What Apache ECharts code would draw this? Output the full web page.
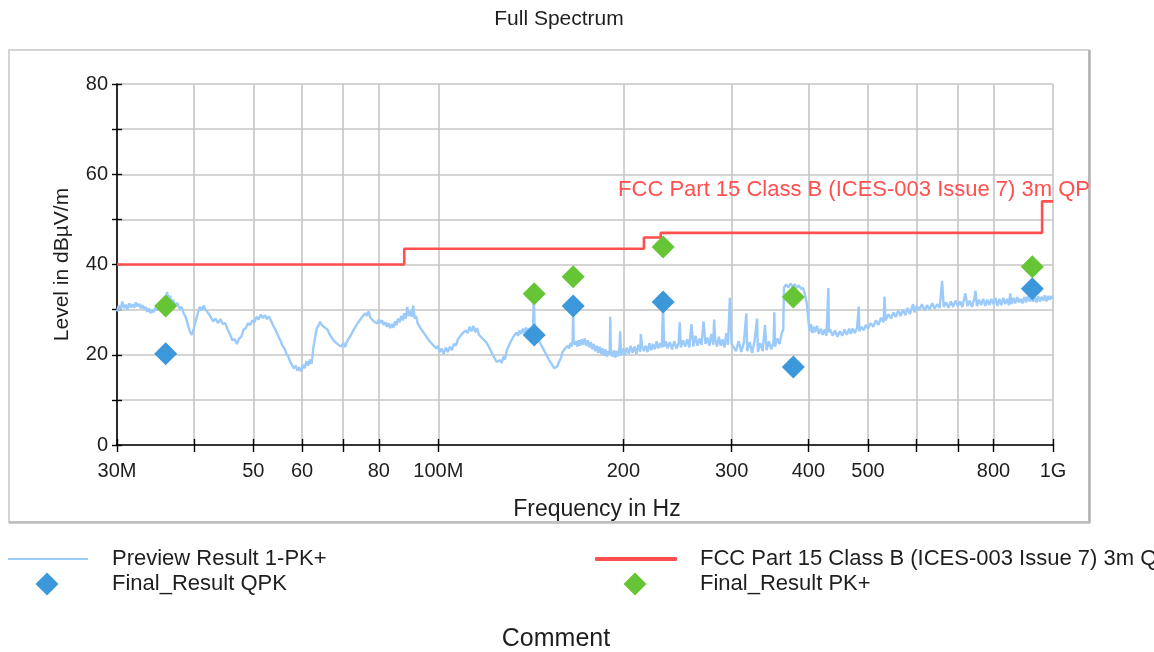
<!DOCTYPE html>
<html>
<head>
<meta charset="utf-8">
<script src="https://cdn.jsdelivr.net/npm/echarts@6/dist/echarts.min.js"></script>
<style>
  html, body { margin: 0; padding: 0; background: #ffffff; }
  #chart { width: 1154px; height: 652px; }
</style>
</head>
<body>
<div id="chart"></div>
<script>
// Emission scan, 30 MHz - 1 GHz. Frequencies in MHz, levels in dBµV/m.
const previewTrace = [
  [30.0,29.6],[30.2,30.9],[30.4,29.9],[30.6,31.8],[30.8,30.3],[31.0,31.1],[31.2,30.0],[31.4,31.4],
  [31.6,30.5],[31.8,31.2],[32.0,30.4],[32.2,31.6],[32.4,30.7],[32.6,31.3],[32.8,30.3],[33.0,31.0],
  [33.2,30.1],[33.4,30.6],[33.6,29.5],[33.8,30.3],[34.0,29.2],[34.2,30.0],[34.4,29.4],[34.6,30.4],
  [34.8,29.8],[35.0,31.2],[35.2,30.6],[35.4,31.9],[35.6,31.0],[35.8,32.8],[36.0,31.5],[36.2,33.9],
  [36.4,32.0],[36.6,33.1],[36.8,31.6],[37.0,32.2],[37.3,31.0],[37.6,31.5],[37.9,30.2],
  [38.2,30.6],[38.5,29.2],[38.8,28.4],[39.1,26.8],[39.4,25.2],[39.7,24.4],[40.0,25.8],[40.3,27.6],
  [40.6,29.2],[40.9,30.6],[41.2,29.8],[41.5,30.9],[41.8,30.0],[42.1,30.4],[42.4,28.9],[42.7,28.6],
  [43.0,27.4],[43.4,28.0],[43.8,27.0],[44.2,27.9],[44.6,26.8],[45.0,27.0],[45.4,25.6],[45.8,24.6],
  [46.2,23.2],[46.6,23.5],[47.0,22.4],[47.4,23.6],[47.8,24.0],[48.2,25.6],[48.6,25.9],
  [49.0,27.0],[49.4,26.6],[49.8,27.6],[50.2,27.2],[50.6,28.4],[51.0,27.8],[51.4,28.9],[51.8,28.1],
  [52.2,28.8],[52.6,27.9],[53.0,28.5],[53.4,27.6],[53.8,26.6],[54.2,25.8],[54.6,24.8],[55.0,23.9],
  [55.4,23.0],[55.8,21.9],[56.2,21.4],[56.6,20.2],[57.0,19.6],[57.4,18.4],[57.8,18.0],[58.2,17.0],
  [58.6,17.6],[59.0,16.5],[59.4,17.2],[59.8,16.3],[60.2,17.8],[60.6,17.0],[61.0,18.6],[61.4,17.6],
  [61.8,18.9],[62.2,18.0],
  [62.6,21.5],[63.0,23.8],[63.4,25.8],[63.8,26.4],[64.2,27.3],[64.6,26.6],[65.0,27.0],[65.5,25.9],
  [66.0,25.6],[66.5,24.6],[67.0,24.2],[67.5,23.2],[68.0,23.6],[68.5,22.4],[69.0,22.8],[69.5,21.8],
  [70.0,22.6],[70.5,21.7],[71.0,22.9],[71.5,23.2],[72.0,24.3],[72.5,24.6],[73.0,25.8],[73.5,26.0],
  [74.0,27.1],[74.5,27.0],[75.0,28.2],[75.5,28.0],[76.0,29.2],[76.5,28.6],[77.0,29.6],[77.5,28.2],
  [78.0,28.6],[78.5,27.4],[79.0,27.8],[79.5,26.9],[80.0,27.9],
  [80.5,27.0],[81.0,27.6],[81.5,26.6],[82.0,27.2],[82.5,26.2],[83.0,27.0],[83.5,25.9],[84.0,26.8],
  [84.5,26.0],[85.0,27.4],[85.5,26.6],[86.0,28.0],[86.5,27.2],[87.0,28.6],[87.5,27.6],[88.0,29.2],
  [88.5,28.0],[89.0,30.6],[89.5,28.6],[90.0,29.6],[90.5,28.4],[91.0,30.9],[91.5,28.0],[92.0,28.6],
  [92.5,27.0],[93.0,27.4],[93.5,25.9],[94.0,26.3],[94.5,25.0],[95.0,25.3],[95.6,24.0],[96.2,24.4],
  [96.8,23.0],[97.4,23.3],[98.0,22.2],[98.6,22.5],[99.2,21.4],[99.8,22.0],
  [100.5,20.6],[101.2,21.4],[102.0,20.2],[102.8,21.6],[103.6,20.6],[104.4,21.8],[105.2,21.0],[106.0,22.4],
  [106.8,22.0],[107.6,23.4],[108.4,23.0],[109.2,24.6],[110.0,24.2],[110.8,25.4],[111.6,24.8],[112.4,26.2],
  [113.2,25.2],[114.0,26.4],[114.8,25.0],[115.6,25.9],[116.4,24.4],[117.2,24.8],[118.0,23.6],[118.8,24.0],
  [119.6,22.8],[120.4,22.6],[121.2,21.4],[122.0,21.0],[122.8,19.8],[123.6,19.6],[124.4,18.4],[125.2,18.0],
  [126.0,18.8],[126.8,18.2],[127.6,19.6],[128.4,19.0],[129.2,21.0],[130.0,20.8],[130.8,22.6],[131.6,22.4],
  [132.4,24.0],[133.2,23.6],[134.0,24.9],[134.8,24.2],[135.6,25.4],[136.4,24.6],[137.2,25.8],[138.0,24.8],
  [138.8,26.0],[139.6,25.0],[140.4,25.9],[141.2,24.8],[142.0,25.6],[142.6,26.4],[143.0,33.2],[143.4,26.0],
  [144.0,24.6],[144.8,23.8],[145.6,23.4],[146.4,22.6],[147.2,22.2],[148.0,21.4],[148.8,21.0],[149.6,20.2],
  [150.4,19.8],[151.2,19.0],[152.0,18.6],[152.8,18.0],[153.6,17.6],[154.4,17.0],[155.2,16.8],[156.0,17.4],
  [156.8,17.6],[157.6,18.8],[158.4,19.4],[159.2,20.6],[160.0,20.4],[160.8,21.4],[161.6,21.0],[162.4,22.0],
  [163.2,21.4],[164.0,22.6],[164.8,21.8],[165.4,23.4],[165.7,30.8],[166.0,23.0],[166.8,22.2],[167.6,23.0],
  [168.4,21.8],[169.2,23.2],[170.0,22.0],
  [171.0,23.4],[172.0,22.2],[173.0,23.6],[174.0,22.0],[175.0,23.2],[176.0,21.6],[177.0,22.8],[178.0,21.2],
  [179.0,22.4],[180.0,20.8],[181.0,22.0],[182.0,20.4],[183.0,21.8],[184.0,20.2],[185.0,21.4],[186.0,19.8],
  [187.0,21.2],[188.0,19.6],[189.0,20.8],[190.0,20.0],[190.4,28.4],[190.8,20.6],[192.0,19.6],[193.0,21.0],
  [194.0,19.4],[195.0,20.8],[196.0,19.6],[197.0,21.2],[197.6,25.2],[198.2,19.8],[199.5,21.4],[201.0,19.9],
  [202.5,21.6],[204.0,20.2],[205.5,22.0],[207.0,20.4],[208.5,21.8],[210.0,20.2],[211.5,22.2],[213.0,20.6],
  [213.5,24.6],[214.5,22.0],[216.0,20.8],[217.5,22.0],[219.0,20.6],[220.5,22.6],[222.0,21.0],[223.5,22.4],
  [225.0,21.2],[226.5,23.0],[228.0,21.4],[229.5,22.6],[231.0,21.6],[232.0,31.4],[233.0,21.8],[234.5,23.0],
  [236.0,21.4],
  [238.0,22.8],[240.0,21.2],[242.0,23.0],[244.0,21.4],[246.0,22.6],[247.0,27.2],[248.0,21.6],[250.0,23.2],
  [252.0,21.8],[254.0,23.4],[256.0,21.6],[258.0,26.8],[260.0,21.8],[262.0,24.2],[264.0,22.0],[266.0,23.6],
  [268.0,22.2],[270.0,27.4],[272.0,22.4],[274.0,23.8],[276.0,22.0],[278.0,24.6],[280.0,22.2],[281.0,27.8],
  [282.0,23.6],[284.0,21.8],[286.0,24.0],[288.0,22.0],[290.0,23.4],[292.0,21.6],[294.0,24.8],[296.0,22.2],
  [298.0,32.6],[300.0,22.4],
  [302.0,22.8],[305.0,20.8],[308.0,23.0],[311.0,20.6],[314.0,22.6],[317.0,29.2],[318.0,20.8],[321.0,22.8],
  [324.0,20.4],[327.0,23.2],[330.0,28.0],[331.0,20.6],[334.0,22.6],[337.0,20.8],[340.0,26.6],[342.0,21.0],
  [345.0,23.0],[348.0,21.2],[351.0,22.8],[352.0,29.4],[353.0,21.8],[356.0,23.6],[359.0,22.4],[362.0,24.8],
  [364.0,25.6],
  [365.0,34.8],[368.0,35.6],[371.0,34.9],[374.0,35.8],[377.0,35.0],[380.0,35.6],[383.0,34.8],[386.0,35.4],
  [389.0,34.6],[392.0,34.8],[395.0,33.2],[398.0,31.0],[400.0,27.4],[402.0,25.2],[404.0,26.8],[406.0,24.8],
  [408.0,26.2],
  [410.0,25.0],[413.0,26.4],[416.0,24.6],[419.0,25.8],[422.0,24.4],[425.0,25.6],[428.0,24.2],[431.0,34.8],
  [432.0,25.0],[434.0,25.6],[438.0,24.2],[442.0,25.4],[446.0,24.0],[450.0,25.2],[454.0,24.2],[458.0,25.6],
  [462.0,24.4],[466.0,25.8],[469.0,24.6],[472.0,25.8],[476.0,24.8],[480.0,26.0],[483.0,30.7],[484.0,25.2],
  [488.0,26.2],[492.0,25.4],[496.0,26.6],[500.0,25.8],[505.0,27.0],[510.0,26.2],[515.0,27.6],[520.0,26.6],
  [525.0,28.2],[530.0,27.2],[532.0,32.9],[534.0,27.6],[540.0,29.0],[545.0,28.0],[550.0,29.4],[555.0,28.4],
  [560.0,29.8],[565.0,28.6],[570.0,30.0],[575.0,28.8],[580.0,30.4],[585.0,29.0],[590.0,30.6],[592.0,31.2],
  [595.0,29.4],[600.0,30.8],
  [606.0,30.0],[612.0,31.2],[618.0,29.8],[624.0,31.0],[630.0,30.0],[636.0,31.4],[642.0,30.2],[648.0,31.2],
  [654.0,30.4],[660.0,36.4],[664.0,30.6],[670.0,31.6],[676.0,30.4],[682.0,31.8],[688.0,30.6],[694.0,32.0],
  [700.0,30.8],[706.0,31.8],[712.0,30.6],[720.0,33.6],[726.0,30.8],[732.0,32.0],[738.0,30.6],[744.0,32.2],
  [748.0,34.2],[752.0,30.8],[758.0,32.2],[764.0,31.0],[770.0,32.4],[776.0,30.8],[782.0,32.2],[788.0,31.0],
  [794.0,32.4],[800.0,31.2],[806.0,32.6],[812.0,30.8],[818.0,32.4],[824.0,31.0],[830.0,32.6],[836.0,31.2],
  [842.0,32.4],[848.0,31.0],[852.0,33.6],[856.0,31.2],[862.0,32.6],[868.0,31.4],[874.0,32.8],[880.0,31.6],
  [886.0,32.4],[892.0,31.4],[898.0,32.8],[904.0,31.6],[910.0,33.0],[916.0,31.8],[922.0,32.6],[928.0,31.8],
  [934.0,32.8],[940.0,31.6],[946.0,33.0],[952.0,31.8],[958.0,32.8],[964.0,32.0],[970.0,33.2],[976.0,31.8],
  [982.0,33.0],[988.0,32.2],[994.0,33.0],[1000.0,32.4]
];

// FCC Part 15 Class B / ICES-003 Issue 7, 3 m quasi-peak limit (step line)
const limitLine = [
  [30, 40], [88, 40], [88, 43.5], [216, 43.5], [216, 46], [230, 46],
  [230, 47], [960, 47], [960, 54], [1000, 54]
];

// Final measurements at the selected frequencies
const finalFreqs = [36.0, 143.2, 165.7, 232.1, 378.0, 925.5];
const qpkLevels  = [20.2, 24.4, 30.8, 31.7, 17.3, 34.6];
const pkLevels   = [30.8, 33.5, 37.3, 43.9, 32.8, 39.5];

// Frequency axis ticks
const xGridValues  = [30, 40, 50, 60, 70, 80, 100, 200, 300, 400, 500, 600, 700, 800, 1000];
const xLabelValues = [30, 50, 60, 80, 100, 200, 300, 400, 500, 800, 1000];
const xLabelTexts  = ['30M', '50', '60', '80', '100M', '200', '300', '400', '500', '800', '1G'];
const yLabelValues = [0, 20, 40, 60, 80];

const seriesNames = {
  preview: 'Preview Result 1-PK+',
  limit: 'FCC Part 15 Class B (ICES-003 Issue 7) 3m QP',
  qpk: 'Final_Result QPK',
  pk: 'Final_Result PK+'
};

const FONT = '"Liberation Sans", Arial, sans-serif';
const TEXT = '#1e1e1e';
const C_PREVIEW = '#9ccbfa';
const C_LIMIT = '#ff4f4f';
const C_QPK = '#3c97db';
const C_PK = '#66c535';

const zip = (xs, ys) => xs.map((x, i) => [x, ys[i]]);

const chart = echarts.init(document.getElementById('chart'), null, { renderer: 'canvas' });

function legendBlock(name, icon, left, top, w, h, spacer) {
  return {
    data: [{ name: name, icon: icon }], left: left, top: top, orient: 'horizontal',
    itemWidth: w, itemHeight: h, padding: 0,
    formatter: '{g|\u00a0}{n|{name}}',
    textStyle: {
      fontFamily: FONT, fontSize: 22, color: TEXT,
      rich: {
        g: { width: spacer, fontSize: 22, fontFamily: FONT },
        n: { fontSize: 22, fontFamily: FONT, color: TEXT }
      }
    }
  };
}

const xAxisBase = {
  type: 'log', logBase: 10, min: 30, max: 1000, gridIndex: 0, position: 'bottom'
};
const yAxisBase = {
  type: 'value', min: 0, max: 80, interval: 10, gridIndex: 0, position: 'left'
};

chart.setOption({
  animation: false,
  backgroundColor: '#ffffff',
  title: [
    {
      text: 'Full Spectrum', left: 554, top: 4, textAlign: 'center',
      textStyle: { fontFamily: FONT, fontSize: 21, fontWeight: 'normal', color: TEXT }
    },
    {
      text: 'Comment', left: 551, top: 622, textAlign: 'center',
      textStyle: { fontFamily: FONT, fontSize: 25, fontWeight: 'normal', color: TEXT }
    }
  ],
  grid: { left: 117, right: 101, top: 84, bottom: 207, containLabel: false },
  xAxis: [
    Object.assign({}, xAxisBase, {
      name: 'Frequency in Hz', nameLocation: 'middle', nameGap: 53,
      nameTextStyle: { fontFamily: FONT, fontSize: 23, color: TEXT, padding: [0, 0, 0, 24] },
      axisLine: { show: true, lineStyle: { color: '#000', width: 1.6 } },
      axisTick: { show: true, inside: false, length: 7, customValues: xGridValues,
                  lineStyle: { color: '#000', width: 1.4 } },
      axisLabel: {
        show: true, customValues: xLabelValues, margin: 16,
        fontFamily: FONT, fontSize: 20, color: TEXT,
        formatter: v => {
          const i = xLabelValues.findIndex(t => Math.abs(t - v) / t < 1e-6);
          return i >= 0 ? xLabelTexts[i] : '';
        }
      },
      splitLine: { show: true, lineStyle: { color: '#c6c6c6', width: 1.6 } },
      minorTick: { show: false }, minorSplitLine: { show: false }
    }),
    Object.assign({}, xAxisBase, {
      axisLine: { show: false },
      axisTick: { show: true, inside: true, length: 6, customValues: xGridValues,
                  lineStyle: { color: '#000', width: 1.4 } },
      axisLabel: { show: false },
      splitLine: { show: false }
    })
  ],
  yAxis: [
    Object.assign({}, yAxisBase, {
      name: 'Level in dBµV/m', nameLocation: 'middle', nameGap: 44,
      nameTextStyle: { fontFamily: FONT, fontSize: 21, color: TEXT },
      axisLine: { show: true, lineStyle: { color: '#000', width: 1.6 } },
      axisTick: { show: true, inside: false, length: 5, lineStyle: { color: '#000', width: 1.4 } },
      axisLabel: {
        show: true, margin: 9, fontFamily: FONT, fontSize: 20, color: TEXT,
        formatter: v => (yLabelValues.indexOf(v) >= 0 ? String(v) : '')
      },
      splitLine: { show: true, lineStyle: { color: '#c6c6c6', width: 1.6 } }
    }),
    Object.assign({}, yAxisBase, {
      axisLine: { show: false },
      axisTick: { show: true, inside: true, length: 5, lineStyle: { color: '#000', width: 1.4 } },
      axisLabel: { show: false },
      splitLine: { show: false }
    })
  ],
  legend: [
    legendBlock(seriesNames.preview, 'rect', 8, 548, 80, 2, 19),
    legendBlock(seriesNames.qpk, 'diamond', 35.5, 572.5, 23, 23, 48.5),
    legendBlock(seriesNames.limit, 'roundRect', 595, 548, 82, 4, 18),
    legendBlock(seriesNames.pk, 'diamond', 623.5, 572.5, 23, 23, 48.5)
  ],
  graphic: [
    { type: 'rect', shape: { x: 9, y: 50, width: 1080, height: 472 }, silent: true, z: -10,
      style: { fill: 'none', stroke: '#d4d4d4', lineWidth: 2 } },
    { type: 'line', shape: { x1: 1089.5, y1: 50, x2: 1089.5, y2: 523 }, silent: true, z: -9,
      style: { stroke: '#b2b2b2', lineWidth: 2.5 } },
    { type: 'line', shape: { x1: 9, y1: 522.5, x2: 1090, y2: 522.5 }, silent: true, z: -9,
      style: { stroke: '#bcbcbc', lineWidth: 2.5 } },
    { type: 'text', x: 1090, y: 190, silent: true, z: 10,
      style: { text: seriesNames.limit, fill: C_LIMIT, font: '22px ' + FONT,
               textAlign: 'right', textVerticalAlign: 'middle' } }
  ],
  series: [
    {
      name: seriesNames.preview, type: 'line', data: previewTrace,
      xAxisIndex: 0, yAxisIndex: 0, symbol: 'none', showSymbol: false,
      lineStyle: { color: C_PREVIEW, width: 2.4 }, itemStyle: { color: C_PREVIEW },
      z: 2
    },
    {
      name: seriesNames.limit, type: 'line', data: limitLine,
      xAxisIndex: 0, yAxisIndex: 0, symbol: 'none', showSymbol: false,
      lineStyle: { color: C_LIMIT, width: 2.6 }, itemStyle: { color: C_LIMIT },
      z: 3
    },
    {
      name: seriesNames.qpk, type: 'scatter', data: zip(finalFreqs, qpkLevels),
      xAxisIndex: 0, yAxisIndex: 0, symbol: 'diamond', symbolSize: 23,
      itemStyle: { color: C_QPK, opacity: 1 }, z: 4
    },
    {
      name: seriesNames.pk, type: 'scatter', data: zip(finalFreqs, pkLevels),
      xAxisIndex: 0, yAxisIndex: 0, symbol: 'diamond', symbolSize: 23,
      itemStyle: { color: C_PK, opacity: 1 }, z: 4
    }
  ]
});
</script>
</body>
</html>
